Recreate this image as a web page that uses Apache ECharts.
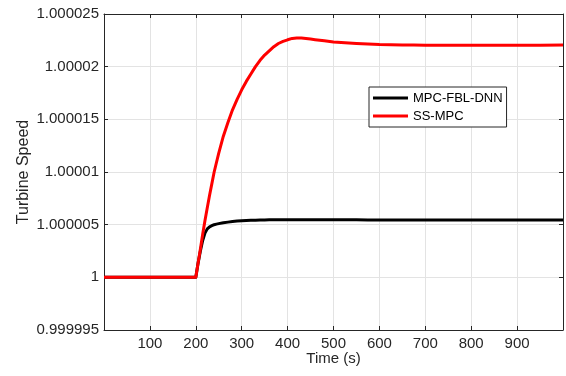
<!DOCTYPE html>
<html>
<head>
<meta charset="utf-8">
<script src="https://cdn.jsdelivr.net/npm/echarts@6/dist/echarts.min.js"></script>
<style>
  html, body { margin: 0; padding: 0; background: #fff; }
  #chart { width: 566px; height: 376px; }
</style>
</head>
<body>
<div id="chart"></div>
<script>
// Time stamps (s)
const timeSec = [0, 50, 100, 150, 200, 205, 210, 215, 220, 225, 230, 235, 240, 245, 250,
  260, 270, 280, 290, 300, 310, 320, 330, 340, 350, 360, 370, 380, 390, 400, 410, 420,
  430, 440, 450, 460, 480, 500, 525, 550, 575, 600, 625, 650, 675, 700, 750, 800, 850,
  900, 950, 1000];

// Turbine speed, proposed controller
const speedDNN = [1, 1, 1, 1, 1, 1.00000135, 1.0000025, 1.0000035, 1.0000042, 1.0000046,
  1.0000048, 1.0000049, 1.000005, 1.00000505, 1.0000051, 1.00000518, 1.00000524,
  1.0000053, 1.00000534, 1.00000537, 1.0000054, 1.00000542, 1.00000543, 1.00000544,
  1.00000545, 1.00000546, 1.00000546, 1.00000547, 1.00000547, 1.00000547, 1.00000547,
  1.00000547, 1.00000547, 1.00000547, 1.00000547, 1.00000546, 1.00000546, 1.00000546,
  1.00000546, 1.00000546, 1.00000545, 1.00000545, 1.00000545, 1.00000545, 1.00000545,
  1.00000545, 1.00000545, 1.00000545, 1.00000545, 1.00000545, 1.00000545, 1.00000545];

// Turbine speed, state-space MPC
const speedSS = [1, 1, 1, 1, 1, 1.00000135, 1.0000027, 1.0000041, 1.0000054, 1.0000066,
  1.0000078, 1.0000089, 1.00001, 1.0000109, 1.0000118, 1.0000134, 1.0000147, 1.0000159,
  1.0000169, 1.0000178, 1.0000186, 1.0000193, 1.00002, 1.0000206, 1.0000211, 1.0000215,
  1.0000219, 1.0000222, 1.0000224, 1.00002255, 1.00002268, 1.00002272, 1.00002272,
  1.00002268, 1.00002262, 1.00002256, 1.00002245, 1.00002235, 1.00002227, 1.0000222,
  1.00002215, 1.0000221, 1.00002208, 1.00002206, 1.00002205, 1.00002204, 1.00002203,
  1.00002204, 1.00002203, 1.00002204, 1.00002203, 1.00002205];

const seriesNames = ['MPC-FBL-DNN', 'SS-MPC'];
const xTitle = 'Time (s)';
const yTitle = 'Turbine Speed';

const FONT = '"Liberation Sans", Arial, Helvetica, sans-serif';
const AXIS_COLOR = '#262626';
const GRID_COLOR = '#e3e3e3';

const pair = (vals) => timeSec.map((t, i) => [t, vals[i]]);

const fmtY = (v) => String(Number(v.toFixed(6)));
const fmtX = (v) => (v <= 0 || v >= 1000) ? '' : String(v);

const tickCfg = { show: true, inside: true, length: 4, lineStyle: { color: AXIS_COLOR, width: 1 } };
const lineCfg = { show: true, onZero: false, lineStyle: { color: AXIS_COLOR, width: 1 } };

const chart = echarts.init(document.getElementById('chart'), null, { renderer: 'canvas' });
chart.setOption({
  animation: false,
  backgroundColor: '#ffffff',
  grid: { left: 104, right: 1, top: 14, bottom: 46, containLabel: false },
  legend: {
    data: seriesNames,
    orient: 'vertical',
    left: 369,
    top: 87,
    icon: 'rect',
    backgroundColor: '#ffffff',
    borderColor: '#262626',
    borderWidth: 1,
    borderRadius: 0,
    padding: [3, 4, 3, 4],
    itemGap: 2,
    itemWidth: 35,
    itemHeight: 3,
    textStyle: { fontFamily: FONT, fontSize: 13, lineHeight: 16, color: '#000' }
  },
  xAxis: [{
    type: 'value', min: 0, max: 1000, interval: 100, position: 'bottom',
    name: xTitle, nameLocation: 'middle', nameGap: 21, nameMoveOverlap: false,
    nameTextStyle: { fontFamily: FONT, fontSize: 15, color: AXIS_COLOR },
    axisLine: lineCfg, axisTick: tickCfg,
    axisLabel: { formatter: fmtX, fontFamily: FONT, fontSize: 15, color: AXIS_COLOR, margin: 6 },
    splitLine: { show: true, lineStyle: { color: GRID_COLOR, width: 1 } }
  }, {
    type: 'value', min: 0, max: 1000, interval: 100, position: 'top',
    axisLine: lineCfg, axisTick: tickCfg, axisLabel: { show: false }, splitLine: { show: false }
  }],
  yAxis: [{
    type: 'value', min: 0.999995, max: 1.000025, interval: 0.000005, position: 'left',
    name: yTitle, nameLocation: 'middle', nameGap: 72, nameMoveOverlap: false,
    nameTextStyle: { fontFamily: FONT, fontSize: 16, color: AXIS_COLOR },
    axisLine: lineCfg, axisTick: tickCfg,
    axisLabel: { formatter: fmtY, fontFamily: FONT, fontSize: 15, color: AXIS_COLOR, margin: 5 },
    splitLine: { show: true, lineStyle: { color: GRID_COLOR, width: 1 } }
  }, {
    type: 'value', min: 0.999995, max: 1.000025, interval: 0.000005, position: 'right',
    axisLine: lineCfg, axisTick: tickCfg, axisLabel: { show: false }, splitLine: { show: false }
  }],
  series: [{
    name: seriesNames[0], type: 'line', data: pair(speedDNN),
    showSymbol: false, symbol: 'none', smooth: false,
    lineStyle: { color: '#000000', width: 3, join: 'round' }, itemStyle: { color: '#000000' }, z: 3
  }, {
    name: seriesNames[1], type: 'line', data: pair(speedSS),
    showSymbol: false, symbol: 'none', smooth: false,
    lineStyle: { color: '#ff0000', width: 3, join: 'round' }, itemStyle: { color: '#ff0000' }, z: 4
  }]
});
</script>
</body>
</html>
